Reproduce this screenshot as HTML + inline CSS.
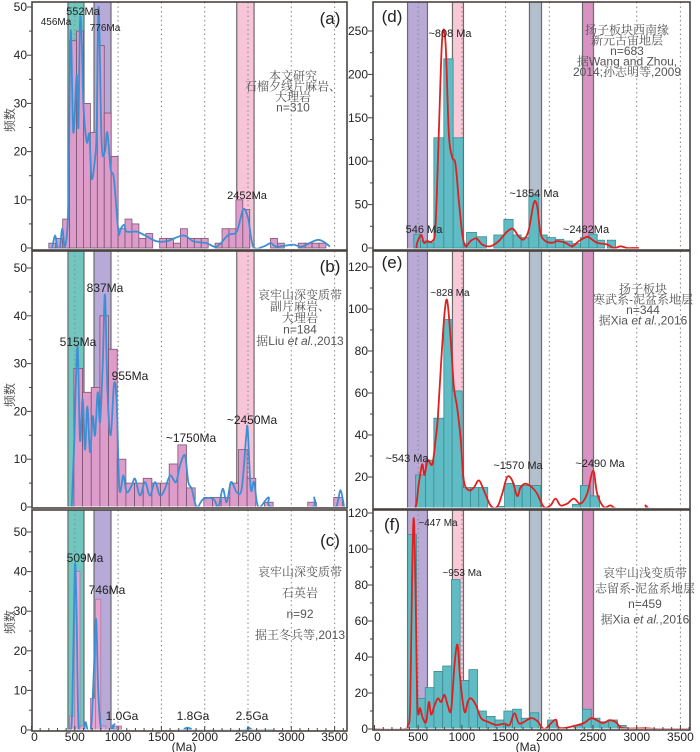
<!DOCTYPE html>
<html><head><meta charset="utf-8">
<style>
html,body{margin:0;padding:0;background:#fff;}
svg{display:block;font-family:"Liberation Sans","Noto Sans CJK SC",sans-serif;}
</style></head>
<body>
<svg id="chart" width="700" height="752" viewBox="0 0 700 752"></svg>
<script>
// ---------- DATA ----------
// Panel a
const aBinStart = 200, aBinWidth = 80;
const aCounts = [1,2,6,43,45,30,24,42,28,19,4,6,5,2,3,0,2,2,1,4,2,2,2,0,1,4,4,10,8,0,0,0,2,1,0,0,1,1,1,1];
const aCurveAge = [214,237,272,299,329,356,387,425,452,483,522,541,560,580,599,637,668,694,733,753,776,810,848,875,914,952,1003,1030,1069,1099,1215,1311,1445,1561,1753,1869,2023,2138,2273,2369,2446,2503,2561,2677,2762,2831,3024,3120,3313,3447];
const aCurveVal = [0,0,2.6,0,0.3,4,0.3,9,45,24,36,25,47,43,30,22,23.5,14.4,18.5,25,50,22,20,24,16.4,14.4,3.4,4,4.8,3.4,3.4,2.6,1.4,1.4,2.6,1.4,1,0.3,2.7,3.4,8,6,0.3,0.3,1,0.3,0.7,0.3,1.7,0.3];
// Panel b
const bBinStart = 490, bBinWidth = 100;
const bCounts = [29,24,25,40,33,10,5,5,6,5,5,9,13,4,0,2,2,2,5,12,6,0,1,0,0,0,0,1,0,0,2];
const bCurveAge = [464,491,530,560,591,618,645,676,707,734,765,791,822,849,876,914,953,984,1015,1061,1099,1157,1196,1253,1311,1368,1426,1484,1542,1600,1669,1715,1773,1811,1850,1908,1985,2100,2158,2208,2254,2304,2370,2427,2477,2497,2531,2570,2620,2736,2775,3237,3264,3295,3500,3535,3570,3610];
const bCurveVal = [0,12,33.7,14,22.6,12,21,11.5,19,15,24,17.7,29.5,44.4,24.7,15,25.7,21.9,3.8,6.6,3.1,4.5,5.9,2.4,5.2,2.4,5.2,2.4,3.8,6.6,5.2,8.7,10.8,5.2,3.8,0,1.7,1.7,0,3.8,1,5.2,3.1,3.8,14.2,16.3,3.8,5.2,0,2,0,0,2,0,0,1,3.5,0];
// Panel c
const cBinStart = 440, cBinWidth = 60;
const cCounts = [3.5,40,1,0,8,33,1,0,1,1];
const cCurveAge = [380,440,470,500,520,545,600,625,650,690,720,746,770,800,850,930,960,990,1780,1800,1820,2480,2500,2520,2800];
const cCurveVal = [0,0,5,41,30,0,0,2,0,1,15,28,10,0.5,0,0,1.5,0,0,0.6,0,0,0.6,0,0];
// Panel d
const dEdges = [450,526,603,679,793,900,1015,1053,1167,1281,1365,1480,1586,1678,1766,1880,1976,2071,2166,2262,2357,2453,2548,2631,2663,2758];
const dCounts = [16,8,6,127,218,127,5,18,13,0,15,33,15,12,60,15,12,10,8,5,12,16,9,0,9];
const dCurveAge = [480,488,534,565,603,660,698,736,774,812,850,888,926,965,1003,1041,1098,1167,1232,1327,1422,1518,1586,1651,1709,1766,1823,1861,1899,1957,2033,2090,2185,2262,2338,2433,2472,2548,2663,2739,2815,2892,2968,3025];
const dCurveVal = [0,6,15,6,8,8,25,132,240,237,132,105,97,55,17,2,8,11,4,2,8,19,22,13,10,21,52,48,17,8,6,8,6,2,8,13,11,6,4,0,2,0,0,0];
// Panel e
const eEdges = [470,584,679,793,888,1003,1098,1193,1296,1396,1488,1601,1690,1785,1898,1995,2090,2185,2265,2355,2468,2575,2670,2765];
const eCounts = [21,28,48,95,61,15,15,15,2,6,17,16,16,16,0,5,3,4,7,16,11,3,3];
const eCurveAge = [393,470,507,546,572,610,660,698,725,763,801,832,870,908,946,984,1022,1080,1137,1194,1251,1327,1403,1461,1518,1575,1633,1671,1728,1804,1861,1938,2014,2071,2128,2204,2281,2357,2433,2502,2548,2624,2701,2777,3082,3101,3139,3216];
const eCurveVal = [5,5.7,16.8,26,21,28,26,37.5,48.6,75,97.8,104,86.7,62.9,53,39,18.4,13.7,15,18.4,13.7,6.5,5.7,12,20,18.4,11,15,16.8,15,12,5.7,6.5,9.7,6.5,7.3,9.7,7.3,12,23,12,5.7,6.5,5,5,6.5,5,5];
// Panel f
const fBinStart = 380, fBinWidth = 100;
const fCounts = [108,17,23,32,35,83,27,33,10,7,5,10,11,6,9,0,5,0,0,2,11,6,4,5,2];
const fCurveAge = [0,343,381,408,431,450,469,492,523,553,591,622,648,686,725,763,801,839,877,915,950,980,1030,1068,1106,1163,1220,1297,1392,1488,1545,1602,1659,1787,1866,1945,2071,2122,2380,2482,2609,2689,2766,2840,3100,3250,3636];
const fCurveVal = [0,0,2,13,88,117,78,13,11.5,6,4,15,8,13,17,15,19,13,10.6,35.6,46.8,28,9.6,15.2,17,13,6,4,2.2,3,2.2,8.7,3,6,4.3,0,5.2,0.5,3,6,3.4,4.9,3.7,0.5,0.4,0,0];

const xTickLabels = ['0','500','1000','1500','2000','2500','3000','3500'];
const xTickValues = [0,500,1000,1500,2000,2500,3000,3500];

// ---------- DRAW ----------
const NS = 'http://www.w3.org/2000/svg';
const svg = document.getElementById('chart');
function mk(tag, attrs, parent){
  const e = document.createElementNS(NS, tag);
  for (const k in attrs) e.setAttribute(k, attrs[k]);
  (parent||svg).appendChild(e);
  return e;
}
function edgesFrom(start, width, n){ const r=[]; for(let i=0;i<=n;i++) r.push(start+i*width); return r; }
function smoothPath(P){
  let d = 'M'+P[0][0].toFixed(1)+','+P[0][1].toFixed(1);
  for (let i=0;i<P.length-1;i++){
    const p0=P[Math.max(0,i-1)], p1=P[i], p2=P[i+1], p3=P[Math.min(P.length-1,i+2)];
    const c1x=p1[0]+(p2[0]-p0[0])/6, c1y=p1[1]+(p2[1]-p0[1])/6;
    const c2x=p2[0]-(p3[0]-p1[0])/6, c2y=p2[1]-(p3[1]-p1[1])/6;
    d += ' C'+c1x.toFixed(1)+','+c1y.toFixed(1)+' '+c2x.toFixed(1)+','+c2y.toFixed(1)+' '+p2[0].toFixed(1)+','+p2[1].toFixed(1);
  }
  return d;
}

const leftX = m => 31.5 + m*0.0866;
const rightX = m => 374.5 + m*0.0874;

const leftBands = [[421,606,'#6fc7c0'],[722,918,'#b7a9d8'],[2370,2570,'#f7c4d8']];
const rightBands = [[378,606,'#b9a9d6'],[892,1018,'#f9c9d8'],[1773,1911,'#b3bfca'],[2380,2506,'#d993c3']];

const panels = [
 {id:'a', xs:leftX, L:32, R:347, T:2, B:250, y0:248, ppu:4.82, ticks:[0,10,20,30,40,50], minor:5, bands:leftBands,
  edges:edgesFrom(aBinStart,aBinWidth,aCounts.length), counts:aCounts, cx:aCurveAge, cy:aCurveVal,
  barFill:'#dd9cca', barStroke:'#7a5570', curve:'#3d8fd4', labelX:330, labelY:24, ylab:120},
 {id:'b', xs:leftX, L:32, R:347, T:251, B:508, y0:507, ppu:4.78, ticks:[0,10,20,30,40,50], minor:5, bands:leftBands,
  edges:edgesFrom(bBinStart,bBinWidth,bCounts.length), counts:bCounts, cx:bCurveAge, cy:bCurveVal,
  barFill:'#dd9cca', barStroke:'#7a5570', curve:'#3d8fd4', labelX:330, labelY:272, ylab:395},
 {id:'c', xs:leftX, L:32, R:347, T:510, B:731, y0:730, ppu:3.96, ticks:[0,10,20,30,40,50], minor:5, bands:leftBands.slice(0,2),
  edges:edgesFrom(cBinStart,cBinWidth,cCounts.length), counts:cCounts, cx:cCurveAge, cy:cCurveVal,
  barFill:'#e8a4d0', barStroke:'#b07aa0', curve:'#3d8fd4', labelX:330, labelY:546, ylab:622},
 {id:'d', xs:rightX, L:373, R:690, T:2, B:250, y0:248, ppu:0.868, ticks:[0,50,100,150,200,250], minor:25, bands:rightBands,
  edges:dEdges, counts:dCounts, cx:dCurveAge, cy:dCurveVal,
  barFill:'#5fbcc4', barStroke:'#3f8a91', curve:'#e02020', labelX:392, labelY:22},
 {id:'e', xs:rightX, L:373, R:690, T:251, B:509, y0:519, ppu:2.1, ticks:[20,40,60,80,100,120], minor:10, bands:rightBands,
  edges:eEdges, counts:eCounts, cx:eCurveAge, cy:eCurveVal,
  barFill:'#5fbcc4', barStroke:'#3f8a91', curve:'#e02020', labelX:392, labelY:268},
 {id:'f', xs:rightX, L:373, R:690, T:510, B:730, y0:729, ppu:1.8, ticks:[0,20,40,60,80,100,120], minor:10, bands:rightBands,
  edges:edgesFrom(fBinStart,fBinWidth,fCounts.length), counts:fCounts, cx:fCurveAge, cy:fCurveVal,
  barFill:'#5fbcc4', barStroke:'#3f8a91', curve:'#e02020', labelX:392, labelY:530}
];

const defs = mk('defs', {});
panels.forEach(p => {
  const cp = mk('clipPath', {id:'clip-'+p.id}, defs);
  mk('rect', {x:p.L, y:p.T, width:p.R-p.L, height:p.B-p.T-1.5}, cp);
});

panels.forEach(p => {
  const g = mk('g', {'clip-path':'url(#clip-'+p.id+')'});
  
  
  const yv = v => p.y0 - v*p.ppu;
  p.bands.forEach((b,i) => {
    const r = mk('rect', {x:p.xs(b[0]), y:p.T, width:p.xs(b[1])-p.xs(b[0]), height:p.B-p.T, fill:b[2], stroke:'#6a6a6a', 'stroke-width':1.2}, g);
    
    
  });
  xTickValues.forEach(v => {
    if (v===0) return;
    const l = mk('line', {x1:p.xs(v), x2:p.xs(v), y1:p.T, y2:p.B, stroke:'#888', 'stroke-width':1, 'stroke-dasharray':'1.5,3'}, g);
    
    
  });
  p.counts.forEach((c,i) => {
    if (c<=0) return;
    const x1 = p.xs(p.edges[i]), x2 = p.xs(p.edges[i+1]);
    const r = mk('rect', {x:x1, y:yv(c), width:x2-x1, height:p.y0-yv(c), fill:p.barFill, stroke:p.barStroke, 'stroke-width':0.8}, g);
    
    
  });
  const P = p.cx.map((a,i)=>[p.xs(a), yv(p.cy[i])]);
  const pl = mk('path', {d:smoothPath(P), fill:'none', stroke:p.curve, 'stroke-width':1.8, 'stroke-linejoin':'round'}, g);
  
  
  const fr = mk('rect', {x:p.L, y:p.T, width:p.R-p.L, height:p.B-p.T, fill:'none', stroke:'#4a4440', 'stroke-width':1.6});
  
  
  const tickX = p.L;
  for (let v = p.ticks[0]; v <= p.ticks[p.ticks.length-1]; v += p.minor) {
    const y = yv(v);
    const major = p.ticks.includes(v);
    mk('line', {x1:tickX-(major?5:3), x2:tickX, y1:y, y2:y, stroke:'#4a4440', 'stroke-width':1});
  }
  p.ticks.forEach(v => {
    const t = mk('text', {x:tickX-5, y:yv(v)+4, 'font-size':12, 'text-anchor':'end', fill:'#222'});
    t.textContent = v;
    
    
  });
  const lb = mk('text', {x:p.labelX, y:p.labelY, 'font-size':17, 'text-anchor':'middle', fill:'#222'});
  lb.textContent = '('+p.id+')';
  
  
  if (p.ylab) {
    const yl = mk('text', {x:14, y:p.ylab, 'font-size':12, 'text-anchor':'middle', fill:'#555', transform:'rotate(-90 14 '+p.ylab+')'});
    yl.textContent = '频数';
    
    
  }
  if (p.id==='c' || p.id==='f') {
    for (let m=0; m<=3600; m+=100) {
      const x = p.xs(m); if (x>p.R) break;
      mk('line', {x1:x, x2:x, y1:p.B, y2:p.B-(m%500===0?5:3), stroke:'#4a4440', 'stroke-width':1});
    }
    xTickValues.forEach((v,i) => {
      const t = mk('text', {x:p.xs(v)+(v===0?3:0), y:741, 'font-size':12, 'text-anchor':'middle', fill:'#222'});
      t.textContent = xTickLabels[i];
      
      
    });
    const xt = mk('text', {x:p.id==='c'?184:528, y:751, 'font-size':12, 'text-anchor':'middle', fill:'#222'});
    xt.textContent = '(Ma)';
    
    
  }
});

const notes = [
 ['456Ma',56,25,10],['552Ma',83,15,11],['776Ma',105,31,10],['2452Ma',247,199,11],
 ['837Ma',105,292,12],['515Ma',78,346,12],['955Ma',130,380,12],['~1750Ma',191,442,12],['~2450Ma',252,424,12],
 ['509Ma',85,562,12],['746Ma',107,594,12],['1.0Ga',122,720,12],['1.8Ga',193,720,12],['2.5Ga',252,720,12],
 ['~808 Ma',450,37,11],['546 Ma',424,233,11],['~1854 Ma',534,197,11],['~2482Ma',586,233,11],
 ['~828 Ma',450,296,10],['~543 Ma',407,462,11],['~1570 Ma',518,469,11],['~2490 Ma',600,467,11],
 ['~447 Ma',438,526,10],['~953 Ma',462,576,10]
];
notes.forEach(n => {
  const t = mk('text', {x:n[1], y:n[2], 'font-size':n[3], 'text-anchor':'middle', fill:'#222'});
  t.textContent = n[0];
  
  
});

const blocks = [
 [293, 80, 10.5, ['本文研究','石榴夕线片麻岩、','大理岩','n=310']],
 [300, 299, 11.5, ['哀牢山深变质带','副片麻岩、','大理岩','n=184','据Liu <i>et al.</i>,2013']],
 [300, 576, 21, ['哀牢山深变质带','石英岩','n=92','据王冬兵等,2013']],
 [627, 34, 10.5, ['扬子板块西南缘','新元古宙地层','n=683','据Wang and Zhou,','2014;孙志明等,2009']],
 [643, 293, 10.5, ['扬子板块','寒武系-泥盆系地层','n=344','据Xia <i>et al.</i>,2016']],
 [645, 577, 15.5, ['哀牢山浅变质带','志留系-泥盆系地层','n=459','据Xia <i>et al.</i>,2016']]
];
blocks.forEach((b,bi) => {
  b[3].forEach((line,i) => {
    const t = mk('text', {x:b[0], y:b[1]+i*b[2], 'font-size':12, 'text-anchor':'middle', fill:'#555', 'font-family':'"Liberation Sans","Noto Serif CJK SC",serif'});
    if (line.includes('<i>')) {
      const parts = line.split(/<i>|<\/i>/);
      parts.forEach((s,j) => {
        const ts = mk('tspan', j===1?{'font-style':'italic'}:{}, t);
        ts.textContent = s;
      });
    } else t.textContent = line;
    
    
  });
});
</script>
</body></html>
